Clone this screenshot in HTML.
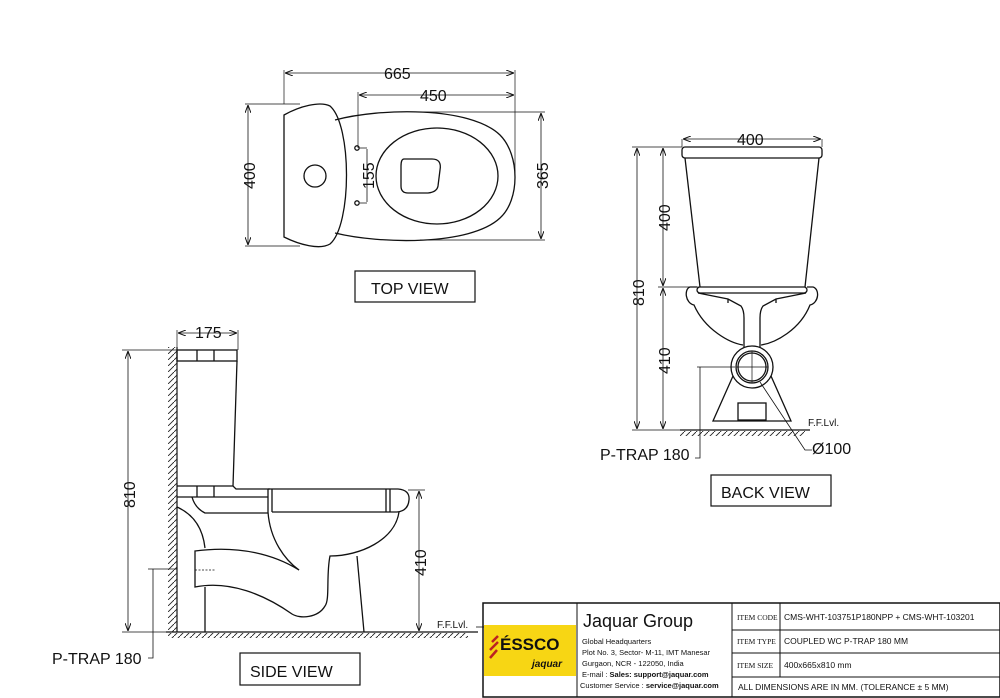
<!DOCTYPE html>
<html><head><meta charset="utf-8"><style>
html,body{margin:0;padding:0;background:#fff;}
svg{display:block;}
text{font-family:"Liberation Sans",sans-serif;fill:#111;}
</style></head><body>
<svg width="1000" height="698" viewBox="0 0 1000 698" xmlns="http://www.w3.org/2000/svg">
<defs>
<pattern id="hatch" width="6" height="6" patternUnits="userSpaceOnUse">
<path d="M0 6 L6 0" stroke="#222" stroke-width="0.9"/>
</pattern>
<marker id="ar" markerWidth="8" markerHeight="6" refX="8" refY="3" orient="auto-start-reverse" markerUnits="userSpaceOnUse">
<path d="M0 0 L8 3 L0 6" fill="none" stroke="#111" stroke-width="1"/>
</marker>
</defs>
<g fill="none" stroke="#111" stroke-width="1.3">

<!-- ================= TOP VIEW ================= -->
<path d="M284 70 V104 M515 70 V176 M358 92 V148 M245 104 H300 M245 246 H300 M420 112 H545 M420 240 H545" stroke-width="0.7"/>
<line x1="285" y1="73" x2="514" y2="73" marker-start="url(#ar)" marker-end="url(#ar)" stroke-width="0.8"/>
<line x1="359" y1="95" x2="514" y2="95" marker-start="url(#ar)" marker-end="url(#ar)" stroke-width="0.8"/>
<line x1="248" y1="105" x2="248" y2="245" marker-start="url(#ar)" marker-end="url(#ar)" stroke-width="0.8"/>
<line x1="541" y1="113" x2="541" y2="239" marker-start="url(#ar)" marker-end="url(#ar)" stroke-width="0.8"/>
<line x1="367" y1="149" x2="367" y2="202" stroke-width="0.8"/>
<path d="M360 148 H367 M360 203 H367" stroke-width="0.7"/>
<circle cx="357" cy="148" r="2.2"/><circle cx="357" cy="203" r="2.2"/>
<path d="M335 120 C380 108 470 106 500 135 C520 155 520 200 500 218 C470 246 380 244 335 233"/>
<path d="M284 115 C300 106 320 101 330 106 C352 125 352 225 330 244 C320 250 300 245 284 237 Z"/>
<circle cx="315" cy="176" r="11"/>
<ellipse cx="437" cy="176" rx="61" ry="48"/>
<path d="M404 159 H432 Q442 159 440 170 L438 186 Q437 192 428 193 H408 Q401 193 401 186 V166 Q401 159 404 159 Z"/>
<rect x="355" y="271" width="120" height="31" stroke-width="1.2"/>

<!-- ================= BACK VIEW ================= -->
<path d="M632 147 H682 M632 430 H682 M658 287 H700 M697 367 H735" stroke-width="0.7"/>
<line x1="637" y1="148" x2="637" y2="429" marker-start="url(#ar)" marker-end="url(#ar)" stroke-width="0.8"/>
<line x1="663" y1="148" x2="663" y2="286" marker-start="url(#ar)" marker-end="url(#ar)" stroke-width="0.8"/>
<line x1="663" y1="288" x2="663" y2="429" marker-start="url(#ar)" marker-end="url(#ar)" stroke-width="0.8"/>
<line x1="683" y1="139" x2="821" y2="139" marker-start="url(#ar)" marker-end="url(#ar)" stroke-width="0.8"/>
<path d="M682 139 V147 M822 139 V147" stroke-width="0.7"/>
<rect x="682" y="147" width="140" height="11" rx="3"/>
<path d="M685 158 L700 287 M819 158 L805 287"/>
<rect x="697" y="287" width="110" height="6" rx="3"/>
<path d="M697 287 H690 C684 289 685 303 694 305 C705 330 730 343 743 345 M807 287 H813 C820 289 819 303 810 305 C800 330 775 343 761 345"/>
<path d="M698 293 L728 299 L741 306 Q744 310 744 318 L744 347 M806 293 L776 299 L763 306 Q760 310 760 318 L760 347"/>
<path d="M728 299 V303 M776 299 V303"/>
<circle cx="752" cy="367" r="21"/>
<circle cx="752" cy="367" r="16"/>
<circle cx="752" cy="367" r="14"/>
<path d="M736 367 H768 M752 351 V383" stroke-width="0.7"/>
<path d="M733 376 L713 421 H791 L771 376"/>
<rect x="738" y="403" width="28" height="17"/>
<path d="M700 367 V458 H695" stroke-width="0.8"/>
<path d="M760 382 L805 450 H812" stroke-width="0.8"/>
<line x1="680" y1="430" x2="810" y2="430" stroke-width="1.2"/>
<rect x="680" y="431" width="125" height="5" fill="url(#hatch)" stroke="none"/>
<rect x="711" y="475" width="120" height="31" stroke-width="1.2"/>

<!-- ================= SIDE VIEW ================= -->
<path d="M122 350 H177 M122 632 H177 M177 330 V350 M238 330 V350 M408 490 H425 M148 569 H177" stroke-width="0.7"/>
<line x1="128" y1="351" x2="128" y2="631" marker-start="url(#ar)" marker-end="url(#ar)" stroke-width="0.8"/>
<line x1="419" y1="491" x2="419" y2="631" marker-start="url(#ar)" marker-end="url(#ar)" stroke-width="0.8"/>
<line x1="178" y1="333" x2="237" y2="333" marker-start="url(#ar)" marker-end="url(#ar)" stroke-width="0.8"/>
<path d="M153 569 V658 H148" stroke-width="0.8"/>
<line x1="177" y1="347" x2="177" y2="632" stroke-width="1.2"/>
<rect x="168" y="347" width="9" height="285" fill="url(#hatch)" stroke="none"/>
<line x1="166" y1="632" x2="478" y2="632" stroke-width="1.2"/>
<rect x="168" y="633" width="300" height="5" fill="url(#hatch)" stroke="none"/>
<rect x="177" y="350" width="60" height="11"/>
<path d="M197 350 V361 M214 350 V361"/>
<path d="M237 361 L233 486"/>
<path d="M177 486 H233 L236 489 H270"/>
<path d="M177 497 H268 M197 486 V497 M214 486 V497"/>
<path d="M268 489 H398 Q410 490 409 500 Q408 511 397 512 H272"/>
<path d="M268 489 V512 M272 489 V512 M386 489 V512 M390 489 V512"/>
<path d="M192 497 Q195 508 205 513 H268"/>
<path d="M399 512 C395 540 360 556 330 556 C326 575 330 600 325 606 C318 618 300 619 292 614 C265 595 230 580 195 587 V551 C240 545 275 555 299 570"/>
<path d="M268 512 C270 540 285 560 299 570"/>
<path d="M357 556 L364 632 M205 587 V632"/>
<path d="M177 507 C195 515 203 530 205 548"/>
<path d="M195 570 H215" stroke-dasharray="2 1.5" stroke-width="0.7"/>
<rect x="240" y="653" width="120" height="32" stroke-width="1.2"/>

<!-- ================= TITLE BLOCK ================= -->
<rect x="483" y="603" width="517" height="94" stroke-width="1.5"/>
<path d="M577 603 V697 M732 603 V697 M780 603 V677 M732 630 H1000 M732 653 H1000 M732 677 H1000" stroke-width="1"/>
<path d="M476 627 H484" stroke-width="0.8"/>
</g>
<rect x="484" y="625" width="92" height="51" fill="#f7d614"/>
<path d="M492 642 L498 636 M490 650 L498 642 M490 658 L497 650" stroke="#b22" stroke-width="2.5"/>
<text x="500" y="650" font-size="17" font-weight="bold" fill="#222">ÉSSCO</text>
<text x="532" y="667" font-size="10" font-style="italic" font-weight="bold" fill="#222">jaquar</text>

<text x="384" y="79" font-size="16">665</text>
<text x="420" y="101" font-size="16">450</text>
<g font-size="16">
<text transform="translate(255 189) rotate(-90)">400</text>
<text transform="translate(374 189) rotate(-90)">155</text>
<text transform="translate(548 189) rotate(-90)">365</text>
<text transform="translate(644 306) rotate(-90)">810</text>
<text transform="translate(670 231) rotate(-90)">400</text>
<text transform="translate(670 374) rotate(-90)">410</text>
<text transform="translate(135 508) rotate(-90)">810</text>
<text transform="translate(426 576) rotate(-90)">410</text>
</g>
<text x="737" y="145" font-size="16">400</text>
<text x="195" y="338" font-size="16">175</text>
<text x="371" y="294" font-size="16">TOP VIEW</text>
<text x="721" y="498" font-size="16">BACK VIEW</text>
<text x="250" y="677" font-size="16">SIDE VIEW</text>
<text x="600" y="460" font-size="16">P-TRAP 180</text>
<text x="52" y="664" font-size="16">P-TRAP 180</text>
<text x="812" y="454" font-size="16">Ø100</text>
<text x="808" y="426" font-size="10">F.F.Lvl.</text>
<text x="437" y="628" font-size="10">F.F.Lvl.</text>

<text x="583" y="627" font-size="18">Jaquar Group</text>
<g font-size="7.5" fill="#333">
<text x="582" y="644">Global Headquarters</text>
<text x="582" y="655">Plot No. 3, Sector- M-11, IMT Manesar</text>
<text x="582" y="666">Gurgaon, NCR - 122050, India</text>
<text x="582" y="677">E-mail : <tspan font-weight="bold">Sales: support@jaquar.com</tspan></text>
<text x="580" y="688">Customer Service : <tspan font-weight="bold">service@jaquar.com</tspan></text>
</g>
<g font-size="7.5" fill="#555">
<text x="737" y="620" style="font-family:'Liberation Serif',serif">ITEM CODE</text>
<text x="737" y="644" style="font-family:'Liberation Serif',serif">ITEM TYPE</text>
<text x="737" y="668" style="font-family:'Liberation Serif',serif">ITEM SIZE</text>
</g>
<g font-size="8.5">
<text x="784" y="620">CMS-WHT-103751P180NPP + CMS-WHT-103201</text>
<text x="784" y="644">COUPLED WC P-TRAP 180 MM</text>
<text x="784" y="668">400x665x810 mm</text>
<text x="738" y="690">ALL DIMENSIONS ARE IN MM. (TOLERANCE ± 5 MM)</text>
</g>
</svg>
</body></html>
